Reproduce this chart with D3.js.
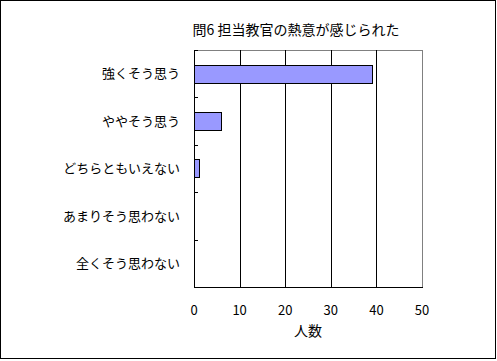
<!DOCTYPE html>
<html><head><meta charset="utf-8">
<script src="https://cdn.jsdelivr.net/npm/d3@7"></script>
<style>body{margin:0;background:#fff;} text{font-family:"Noto Sans CJK JP","Noto Sans",sans-serif;fill:#000;}</style>
</head><body>
<svg id="c" width="497" height="361"></svg>
<script>
const title = "問6 担当教官の熱意が感じられた";
const categories = ["強くそう思う","ややそう思う","どちらともいえない","あまりそう思わない","全くそう思わない"];
const values = [39, 6, 1, 0, 0];
const xTicks = [0, 10, 20, 30, 40, 50];
const xTitle = "人数";

const svg = d3.select("#c");
svg.append("rect").attr("x",0.5).attr("y",0.5).attr("width",495).attr("height",358)
  .attr("fill","#fff").attr("stroke","#000").attr("stroke-width",1);

const L=194, R=422, T=50, B=287;
const x = d3.scaleLinear().domain([0,50]).range([L,R]);
const y = d3.scaleBand().domain(categories).range([T,B]).paddingInner(0.62).paddingOuter(0.31);

// plot border (gray)
svg.append("rect").attr("x",L+0.5).attr("y",T+0.5).attr("width",R-L).attr("height",B-T)
  .attr("fill","none").attr("stroke","#808080");

// gridlines
svg.append("g").selectAll("line").data(xTicks.slice(1,-1)).join("line")
  .attr("x1",d=>Math.round(x(d))+0.5).attr("x2",d=>Math.round(x(d))+0.5)
  .attr("y1",T).attr("y2",B).attr("stroke","#000");

// bars
const barData = values.map((v,i)=>({c:categories[i],v})).filter(d=>d.v>0);
svg.append("g").selectAll("rect").data(barData).join("rect")
  .attr("x",L+0.5).attr("y",d=>Math.round(y(d.c))+0.5)
  .attr("width",d=>Math.round(x(d.v)-L)).attr("height",Math.round(y.bandwidth()))
  .attr("fill","#9999ff").attr("stroke","#000").attr("stroke-width",1);

// y axis line and ticks (inside)
svg.append("line").attr("x1",L+0.5).attr("x2",L+0.5).attr("y1",T).attr("y2",B+1).attr("stroke","#000");
const bounds = d3.range(categories.length+1).map(i=>T + i*(B-T)/categories.length);
svg.append("g").selectAll("line").data(bounds.slice(0,-1)).join("line")
  .attr("x1",L).attr("x2",L+4).attr("y1",d=>Math.round(d)+0.5).attr("y2",d=>Math.round(d)+0.5).attr("stroke","#000");

// x axis line
svg.append("line").attr("x1",L).attr("x2",R+1).attr("y1",B+0.5).attr("y2",B+0.5).attr("stroke","#000");

// category labels
svg.append("g").selectAll("text").data(categories).join("text")
  .attr("x",180).attr("y",d=>y(d)+y.bandwidth()/2).attr("dy","0.36em")
  .attr("text-anchor","end").attr("font-size",13).text(d=>d);

// x tick labels
svg.append("g").selectAll("text").data(xTicks).join("text")
  .attr("x",d=>x(d)).attr("y",310).attr("dy","0.36em")
  .attr("text-anchor","middle").attr("font-size",13).text(d=>d);

svg.append("text").attr("x",(L+R)/2).attr("y",331).attr("dy","0.36em")
  .attr("text-anchor","middle").attr("font-size",14).text(xTitle);

svg.append("text").attr("x",296).attr("y",30).attr("dy","0.36em")
  .attr("text-anchor","middle").attr("font-size",14).text(title);
</script>
</body></html>
